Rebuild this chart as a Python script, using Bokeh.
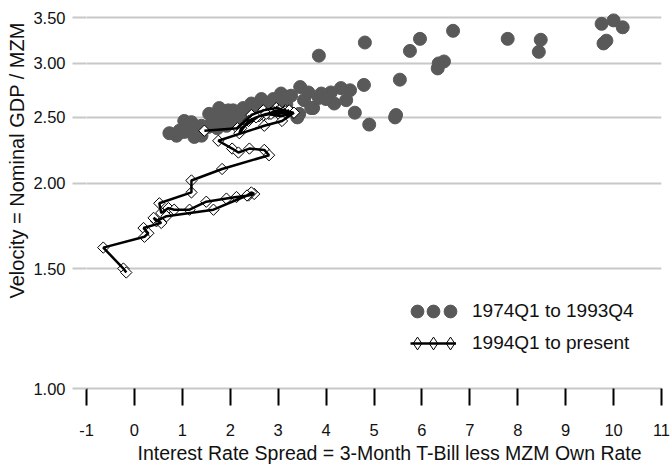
import numpy as np
from bokeh.plotting import figure
from bokeh.models import (Range1d, FixedTicker, PrintfTickFormatter, Legend,
                          LegendItem, Title, ColumnDataSource)
from bokeh.embed import file_html
from bokeh.resources import INLINE

# 1974Q1 to 1993Q4 (spread, velocity)
early_spread = [3.85, 4.81, 4.79, 4.50, 4.31, 4.60, 4.90, 5.44, 5.46, 5.54,
                5.75, 5.96, 6.33, 6.35, 6.46, 6.65, 7.79, 8.48, 8.44, 9.75,
                10.00, 10.19, 9.79, 9.85, 4.10, 4.17, 3.85, 3.73, 3.46, 3.63,
                3.44, 3.27, 3.06, 2.90, 2.65, 2.44, 2.27, 2.13, 1.96, 1.77,
                1.56, 1.75, 1.54, 1.40, 1.25, 1.04, 1.04, 0.88, 0.73, 1.25,
                2.02, 2.23, 1.73, 1.56, 3.90, 3.69, 3.40, 3.17, 2.75, 2.54,
                2.33, 1.92, 1.40, 1.10, 0.94, 2.65, 2.96, 1.65, 1.85, 2.06,
                2.40, 2.81, 3.19, 3.54, 4.00, 4.42, 1.19, 1.35, 2.19, 2.48]
early_velocity = [3.08, 3.22, 2.79, 2.74, 2.76, 2.54, 2.44, 2.50, 2.52, 2.84,
                  3.13, 3.26, 2.95, 3.00, 3.02, 3.35, 3.26, 3.25, 3.12, 3.43,
                  3.47, 3.39, 3.21, 3.24, 2.72, 2.62, 2.67, 2.58, 2.77, 2.72,
                  2.53, 2.69, 2.71, 2.66, 2.66, 2.62, 2.58, 2.50, 2.56, 2.58,
                  2.53, 2.46, 2.42, 2.43, 2.37, 2.47, 2.38, 2.35, 2.37, 2.34,
                  2.47, 2.53, 2.41, 2.43, 2.71, 2.58, 2.50, 2.61, 2.61, 2.58,
                  2.49, 2.43, 2.35, 2.41, 2.39, 2.56, 2.65, 2.49, 2.52, 2.56,
                  2.56, 2.61, 2.68, 2.65, 2.66, 2.65, 2.46, 2.39, 2.46, 2.54]

# 1994Q1 to present (spread, velocity), in time order
late_spread = [1.46, 2.15, 2.44, 2.69, 2.96, 3.15, 3.31, 3.13, 2.85, 2.69,
               2.81, 2.90, 3.02, 3.15, 3.23, 3.10, 2.98, 2.85, 2.60, 2.23,
               2.19, 2.38, 2.54, 2.75, 3.06, 3.33, 3.08, 2.71, 1.75, 2.04,
               2.17, 2.40, 2.71, 2.81, 1.83, 1.19, 1.19, 0.52, 0.56, 0.71,
               0.83, 1.15, 1.50, 1.92, 2.13, 2.38, 2.50, 2.44, 2.35, 1.65,
               0.67, 0.46, 0.40, 0.56, 0.19, 0.29, 0.21, -0.65, -0.23, -0.17]
late_velocity = [2.39, 2.41, 2.52, 2.56, 2.58, 2.56, 2.54, 2.53, 2.54, 2.52,
                 2.53, 2.55, 2.56, 2.55, 2.56, 2.54, 2.55, 2.53, 2.51, 2.41,
                 2.37, 2.47, 2.50, 2.53, 2.51, 2.54, 2.47, 2.43, 2.31, 2.25,
                 2.22, 2.25, 2.24, 2.20, 2.10, 2.02, 1.94, 1.87, 1.81, 1.84,
                 1.83, 1.83, 1.88, 1.90, 1.91, 1.92, 1.93, 1.94, 1.92, 1.83,
                 1.79, 1.76, 1.78, 1.75, 1.72, 1.69, 1.67, 1.61, 1.50, 1.48]

x_ticks = list(range(-1, 12))
y_ticks = [1.0, 1.5, 2.0, 2.5, 3.0, 3.5]
early_label = "1974Q1 to 1993Q4"
late_label = "1994Q1 to present"
x_title = "Interest Rate Spread = 3-Month T-Bill less MZM Own Rate"
y_title = "Velocity = Nominal GDP / MZM"

FONT = "Liberation Sans"
GRID = "#c8c8c8"
INK = "#111111"

p = figure(width=671, height=466, x_range=Range1d(-1, 11), y_range=Range1d(1.0, 3.6),
           y_axis_type="log", output_backend="svg", toolbar_location=None,
           min_border_left=85, min_border_right=10, min_border_top=9,
           min_border_bottom=78)
p.outline_line_color = None
p.background_fill_color = "white"

p.xgrid.grid_line_color = None
p.ygrid.ticker = FixedTicker(ticks=y_ticks)
p.ygrid.grid_line_color = GRID
p.ygrid.grid_line_width = 2

xa = p.xaxis[0]
xa.ticker = FixedTicker(ticks=x_ticks)
xa.formatter = PrintfTickFormatter(format="%d")
xa.axis_line_color = GRID
xa.axis_line_width = 2
xa.major_tick_in = 0
xa.major_tick_out = 17
xa.major_tick_line_color = "black"
xa.major_tick_line_width = 2
xa.minor_tick_line_color = None
xa.major_label_standoff = 18
xa.major_label_text_font = FONT
xa.major_label_text_font_size = "16.5px"
xa.major_label_text_color = INK

ya = p.yaxis[0]
ya.ticker = FixedTicker(ticks=y_ticks)
ya.formatter = PrintfTickFormatter(format="%.2f")
ya.axis_line_color = None
ya.major_tick_in = 0
ya.major_tick_out = 14
ya.major_tick_line_color = GRID
ya.major_tick_line_width = 2
ya.minor_tick_line_color = None
ya.major_label_standoff = 7
ya.major_label_text_font = FONT
ya.major_label_text_font_size = "16.5px"
ya.major_label_text_color = INK

p.add_layout(Title(text=y_title, align="left", offset=90,
                   text_font=FONT, text_font_size="20px", text_font_style="normal",
                   text_color=INK, standoff=6), "left")

p.add_layout(Title(text=x_title, align="left", offset=51, vertical_align="bottom",
                   text_font=FONT, text_font_size="19.5px", text_font_style="normal",
                   text_color=INK, standoff=2), "below")

src_early = ColumnDataSource(dict(x=early_spread, y=early_velocity))
src_late = ColumnDataSource(dict(x=late_spread, y=late_velocity))

r_early = p.scatter("x", "y", source=src_early, marker="circle", size=13,
                    fill_color="#595959", line_color="#595959")
r_dia = p.scatter("x", "y", source=src_late, marker="square", angle=np.pi / 4,
                  size=8, fill_color="white", line_color="black", line_width=1)
r_line = p.line("x", "y", source=src_late, line_color="black", line_width=2.5)
# legend-only glyph (hidden in the plot area)
r_dia_key = p.scatter("x", "y", source=src_late, marker="diamond", size=12,
                      fill_color="white", line_color="black", line_width=1,
                      visible=False)

common = dict(glyph_width=46, glyph_height=32, label_height=32, spacing=-11,
              padding=0, margin=0, border_line_color=None, background_fill_alpha=0,
              label_text_font=FONT, label_text_font_size="19px",
              label_text_color=INK, label_standoff=16)

# side markers of the legend keys (three markers per key as in the original)
for dx in (-16.5, 16.5):
    side = Legend(items=[LegendItem(label=" ", renderers=[r_early]),
                         LegendItem(label=" ", renderers=[r_dia_key])],
                  location=(324 + dx, 29), **common)
    p.add_layout(side, "center")

legend = Legend(items=[LegendItem(label=early_label, renderers=[r_early]),
                       LegendItem(label=late_label, renderers=[r_dia_key, r_line])],
                location=(324, 29), **common)
p.add_layout(legend, "center")

open("out.html", "w").write(file_html(p, INLINE))
